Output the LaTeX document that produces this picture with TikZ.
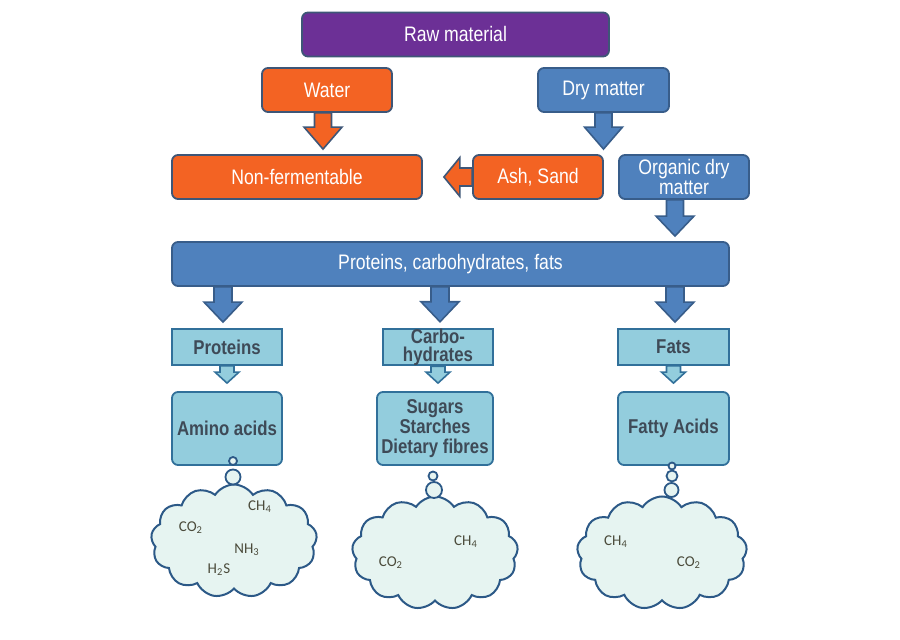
\documentclass[tikz,border=0pt]{standalone}
\usepackage{fontspec}
\setmainfont{Liberation Sans}[FakeStretch=0.84]
\newfontfamily\gasfont{Carlito}
\usepackage{tikz}
\usetikzlibrary{positioning,calc,shapes.symbols}

\definecolor{rawpurple}{HTML}{6C3096}
\definecolor{waterorange}{HTML}{F36323}
\definecolor{dryblue}{HTML}{4F81BD}
\definecolor{paleblue}{HTML}{93CDDD}
\definecolor{mint}{HTML}{E6F4F1}
\definecolor{edgegrey}{HTML}{3E5677}
\definecolor{edgeblue}{HTML}{385D8A}
\definecolor{edgepale}{HTML}{31709A}
\definecolor{cloudedge}{HTML}{2C5987}
\definecolor{slatetext}{HTML}{3E4A57}
\definecolor{gastext}{HTML}{4B4B3B}

% block arrow: style, from, to, shaft half width, head half width, head length
\newcommand{\blockarrow}[6]{%
  \path (#2) coordinate (ba-s) (#3) coordinate (ba-e)
    ($(ba-e)!#6!(ba-s)$) coordinate (ba-h);
  \draw[#1] ($(ba-s)!#4!90:(ba-e)$) -- ($(ba-h)!#4!-90:(ba-s)$)
    -- ($(ba-h)!#5!-90:(ba-s)$) -- (ba-e) -- ($(ba-h)!#5!90:(ba-s)$)
    -- ($(ba-h)!#4!90:(ba-s)$) -- ($(ba-s)!#4!-90:(ba-e)$) -- cycle;}

\begin{document}
\begin{tikzpicture}[
    x=0.5pt, y=-0.5pt,
    topbox/.style={draw=edgegrey, line width=0.9pt, rounded corners=3pt,
        align=center, inner sep=0pt, minimum height=22pt, text=white,
        font=\fontsize{10.5}{10}\selectfont},
    partbox/.style={draw=edgepale, line width=0.9pt, fill=paleblue,
        align=center, inner sep=0pt, minimum width=55pt, minimum height=18pt,
        text=slatetext, font=\bfseries\fontsize{10}{9}\selectfont},
    acidbox/.style={partbox, rounded corners=3pt, minimum height=36.5pt,
        font=\bfseries\fontsize{10}{10.2}\selectfont},
    gascloud/.style={cloud, cloud puffs=13, cloud puff arc=115, cloud ignores aspect,
        draw=cloudedge, line width=1pt, fill=mint, inner sep=0pt},
    bubble/.style={circle, draw=cloudedge, line width=0.9pt, fill=mint, inner sep=0pt},
    gas/.style={text=gastext, font=\gasfont\fontsize{7.5}{8}\selectfont},
    orangearrow/.style={draw=edgegrey, line width=0.8pt, fill=waterorange},
    bluearrow/.style={draw=edgeblue, line width=0.8pt, fill=dryblue},
    palearrow/.style={draw=edgepale, line width=0.8pt, fill=paleblue}
]
\useasboundingbox (0,0) rectangle (900,640);

% ---- Top of the tree ----
\node[topbox, fill=rawpurple, minimum width=153.5pt] (raw) at (455.5,34.5) {Raw material};
\node[topbox, fill=waterorange, minimum width=65pt] (water) at (327,90) {Water};
\node[topbox, fill=dryblue, draw=edgeblue, minimum width=65.5pt] (dry) at (603.5,90) {Dry matter};

\node[topbox, fill=waterorange, minimum width=125pt] (nonferm) at (297,177) {Non-fermentable};
\node[topbox, fill=waterorange, minimum width=65pt] (ash) at (538,177) {Ash, Sand};
\node[topbox, fill=dryblue, draw=edgeblue, minimum width=65pt] (organic) at (684,177)
    {Organic dry\\matter};

\node[topbox, fill=dryblue, draw=edgeblue, minimum width=278.5pt] (pcf) at (450.5,264)
    {Proteins, carbohydrates, fats};

% ---- Fractions ----
\node[partbox] (prot) at (227,347) {Proteins};
\node[partbox] (carbo) at (438,347) {Carbo-\\hydrates};
\node[partbox, minimum width=55.5pt] (fats) at (673.5,347) {Fats};

\node[acidbox] (amino) at (227,428.5) {Amino acids};
\node[acidbox, minimum width=58pt] (sugars) at (435,428.5) {Sugars\\Starches\\Dietary fibres};
\node[acidbox, minimum width=55.5pt] (fatty) at (673.5,428.5) {Fatty Acids};

% ---- Gas clouds ----
\node[gascloud, minimum width=83pt, minimum height=56.5pt] (cloudA) at (234,541) {};
\node[gascloud, minimum width=83pt, minimum height=56.5pt] (cloudB) at (435,553) {};
\node[gascloud, minimum width=85pt, minimum height=56.5pt] (cloudC) at (662,553) {};

\node[bubble, minimum size=4pt] (bubA1) at (233,461) {};
\node[bubble, minimum size=7.5pt] (bubA2) at (233,477) {};
\node[bubble, minimum size=4.5pt] (bubB1) at (433,476) {};
\node[bubble, minimum size=8pt] (bubB2) at (434,490) {};
\node[bubble, minimum size=3.5pt] (bubC1) at (672,466) {};
\node[bubble, minimum size=5.5pt] (bubC2) at (672,476) {};
\node[bubble, minimum size=7pt] (bubC3) at (671.5,490) {};

\node[gas] (ch4A) at (260,507) {CH\textsubscript{4}};
\node[gas] (co2A) at (191,528) {CO\textsubscript{2}};
\node[gas] (nh3A) at (247,550) {NH\textsubscript{3}};
\node[gas] (h2sA) at (219,570) {H\textsubscript{2}S};
\node[gas] (ch4B) at (466,542) {CH\textsubscript{4}};
\node[gas] (co2B) at (391,563) {CO\textsubscript{2}};
\node[gas] (ch4C) at (616,542) {CH\textsubscript{4}};
\node[gas] (co2C) at (689,563) {CO\textsubscript{2}};

% Split arrows
\blockarrow{orangearrow}{$(water.south)+(-2pt,0)$}{$(water.south |- nonferm.north)+(-2pt,2.5pt)$}{4.25pt}{9.5pt}{11pt}
\blockarrow{bluearrow}{dry.south}{$(dry.south |- ash.north)+(0,2.5pt)$}{4.25pt}{9.5pt}{11pt}
\blockarrow{orangearrow}{ash.west}{$(nonferm.east |- ash.west)+(10.5pt,0)$}{4.5pt}{9.75pt}{8pt}
\blockarrow{bluearrow}{$(organic.south)+(-4.5pt,0)$}{$(organic.south |- pcf.north)+(-4.5pt,2.5pt)$}{4.25pt}{9.5pt}{10pt}

% Fraction arrows
\blockarrow{bluearrow}{$(prot.north |- pcf.south)+(-2pt,0)$}{$(prot.north)+(-2pt,3pt)$}{4.5pt}{9.5pt}{10pt}
\blockarrow{bluearrow}{$(carbo.north |- pcf.south)+(1pt,0)$}{$(carbo.north)+(1pt,3pt)$}{4.5pt}{9.5pt}{10pt}
\blockarrow{bluearrow}{$(fats.north |- pcf.south)+(0.75pt,0)$}{$(fats.north)+(0.75pt,3pt)$}{4.5pt}{9.5pt}{10pt}

\blockarrow{palearrow}{prot.south}{$(prot.south |- amino.north)+(0,4pt)$}{3.5pt}{6pt}{5.5pt}
\blockarrow{palearrow}{carbo.south}{$(carbo.south |- sugars.north)+(0,4pt)$}{3.5pt}{6pt}{5.5pt}
\blockarrow{palearrow}{fats.south}{$(fats.south |- fatty.north)+(0,4pt)$}{3.5pt}{6pt}{5.5pt}
\end{tikzpicture}
\end{document}
